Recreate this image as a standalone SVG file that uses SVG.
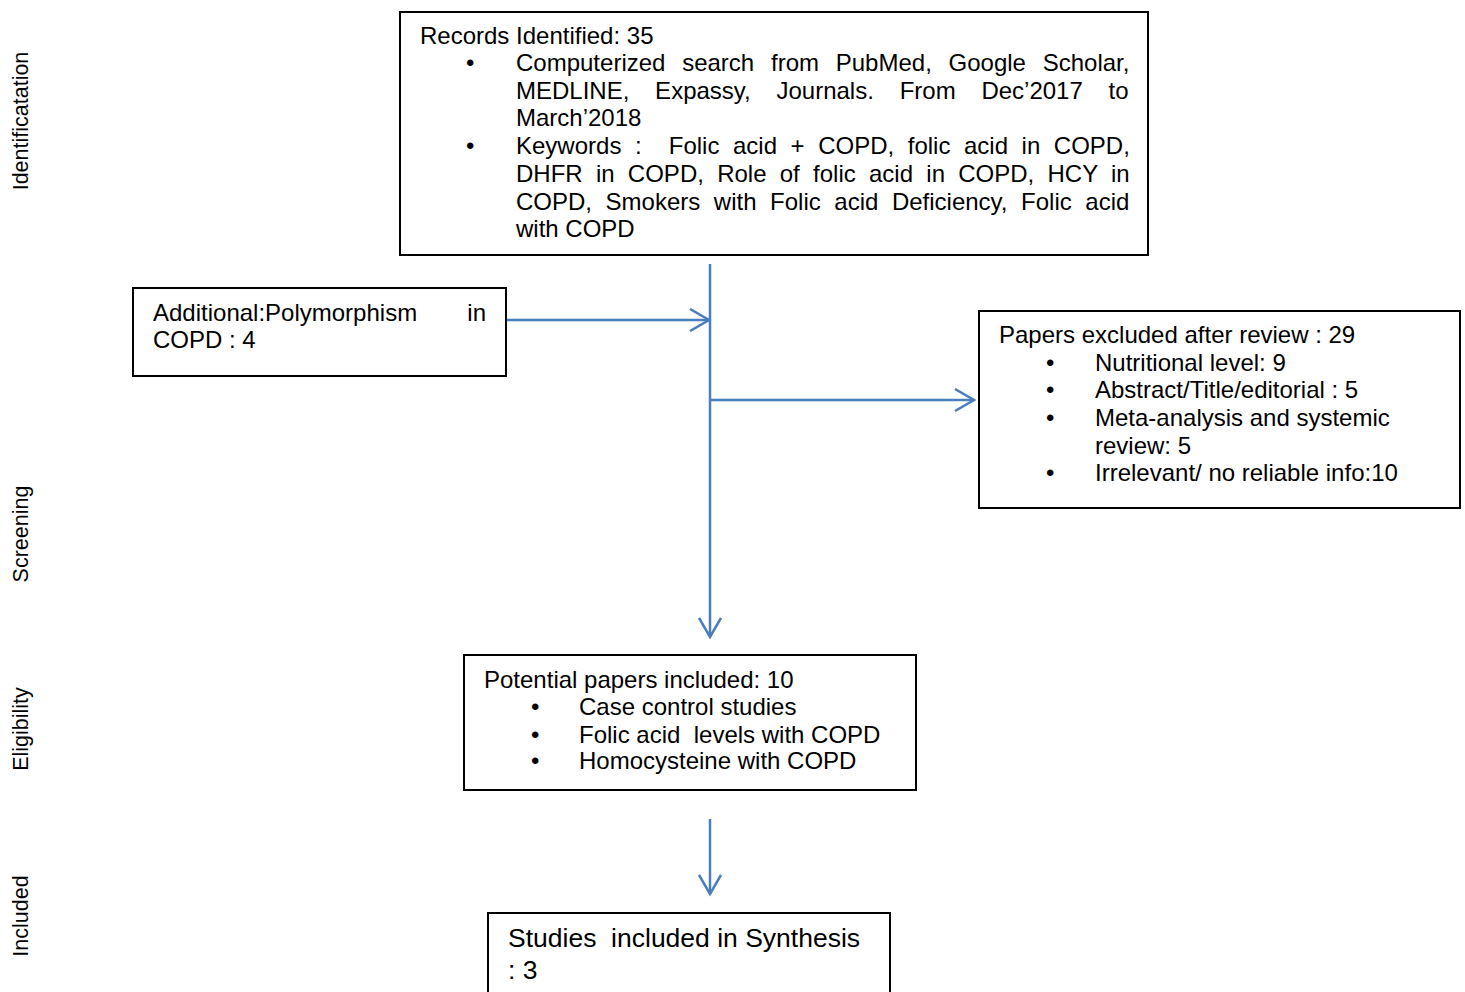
<svg xmlns="http://www.w3.org/2000/svg" width="1465" height="992" viewBox="0 0 1465 992">
<style>
.box{fill:#fff;stroke:#000;stroke-width:2}
.t{font-family:"Liberation Sans",Arial,sans-serif;font-size:24px;fill:#000}
.side{font-family:"Liberation Sans",Arial,sans-serif;font-size:21.5px;fill:#000}
.c{fill:none;stroke:#4a7ebb;stroke-width:2.5}
</style>
<defs>
<marker id="arr" markerWidth="24" markerHeight="24" refX="20" refY="12" orient="auto" markerUnits="userSpaceOnUse">
<path d="M1,1 L20,12 L1,23" fill="none" stroke="#4a7ebb" stroke-width="2.5"/>
</marker>
</defs>
<rect width="1465" height="992" fill="#fff"/>
<g id="side-labels">
<text class="side" transform="translate(28,121) rotate(-90)" text-anchor="middle">Identificatation</text>
<text class="side" transform="translate(28,534) rotate(-90)" text-anchor="middle">Screening</text>
<text class="side" transform="translate(28,729) rotate(-90)" text-anchor="middle">Eligibility</text>
<text class="side" transform="translate(28,916) rotate(-90)" text-anchor="middle">Included</text>
</g>
<g id="connectors">
<line class="c" x1="710" y1="264" x2="710" y2="637" marker-end="url(#arr)"/>
<line class="c" x1="507" y1="320" x2="709" y2="320" marker-end="url(#arr)"/>
<line class="c" x1="710" y1="400" x2="974" y2="400" marker-end="url(#arr)"/>
<line class="c" x1="710" y1="819" x2="710" y2="894" marker-end="url(#arr)"/>
</g>
<g id="records">
<rect class="box" x="400" y="12" width="748" height="243"/>
<text class="t" x="420" y="44">Records Identified: 35</text>
<text class="t" x="466" y="71">•</text>
<text class="t" x="516" y="71" style="word-spacing:10.1px">Computerized search from PubMed, Google Scholar,</text>
<text class="t" x="516" y="99" style="word-spacing:19.1px">MEDLINE, Expassy, Journals. From Dec’2017 to</text>
<text class="t" x="516" y="126">March’2018</text>
<text class="t" x="466" y="154">•</text>
<text class="t" x="516" y="154" style="word-spacing:6.9px" xml:space="preserve">Keywords :  Folic acid + COPD, folic acid in COPD,</text>
<text class="t" x="516" y="182" style="word-spacing:6.6px">DHFR in COPD, Role of folic acid in COPD, HCY in</text>
<text class="t" x="516" y="210" style="word-spacing:6.9px">COPD, Smokers with Folic acid Deficiency, Folic acid</text>
<text class="t" x="516" y="237">with COPD</text>
</g>
<g id="additional">
<rect class="box" x="133" y="288" width="373" height="88"/>
<text class="t" x="153" y="321">Additional:Polymorphism</text>
<text class="t" x="486" y="321" text-anchor="end">in</text>
<text class="t" x="153" y="348">COPD : 4</text>
</g>
<g id="excluded">
<rect class="box" x="979" y="311" width="481" height="197"/>
<text class="t" x="999" y="343">Papers excluded after review : 29</text>
<text class="t" x="1046" y="371">•</text>
<text class="t" x="1095" y="371">Nutritional level: 9</text>
<text class="t" x="1046" y="398">•</text>
<text class="t" x="1095" y="398">Abstract/Title/editorial : 5</text>
<text class="t" x="1046" y="426">•</text>
<text class="t" x="1095" y="426">Meta-analysis and systemic</text>
<text class="t" x="1095" y="454">review: 5</text>
<text class="t" x="1046" y="481">•</text>
<text class="t" x="1095" y="481">Irrelevant/ no reliable info:10</text>
</g>
<g id="potential">
<rect class="box" x="464" y="655" width="452" height="135"/>
<text class="t" x="484" y="688">Potential papers included: 10</text>
<text class="t" x="531" y="715">•</text>
<text class="t" x="579" y="715">Case control studies</text>
<text class="t" x="531" y="743">•</text>
<text class="t" x="579" y="743" xml:space="preserve">Folic acid  levels with COPD</text>
<text class="t" x="531" y="769">•</text>
<text class="t" x="579" y="769">Homocysteine with COPD</text>
</g>
<g id="studies">
<rect class="box" x="488" y="913" width="402" height="90"/>
<text class="t" x="508" y="947" style="font-size:26.5px" xml:space="preserve">Studies  included in Synthesis</text>
<text class="t" x="508" y="979" style="font-size:26.5px">: 3</text>
</g>
</svg>
